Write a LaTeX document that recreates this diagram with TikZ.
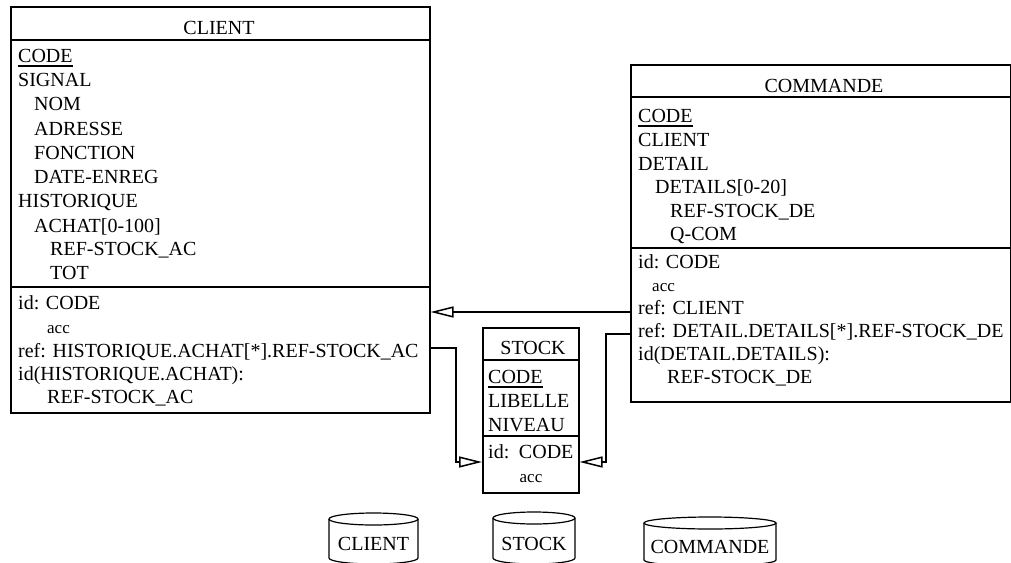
\documentclass[tikz,border=0pt]{standalone}
\usepackage{fontspec}
\setmainfont{Liberation Serif}
\usetikzlibrary{arrows.meta}
\newcommand\fsrow{\fontsize{20}{24}\selectfont}
\newcommand\fsacc{\fontsize{17}{20}\selectfont}
\tikzset{
  box/.style={draw, line width=1.5pt, anchor=north west, inner sep=0pt},
  row/.style={anchor=base west, inner sep=0pt, font=\fsrow},
  accrow/.style={anchor=base west, inner sep=0pt, font=\fsacc},
  title/.style={anchor=base, inner sep=0pt, font=\fsrow},
  divider/.style={line width=1.5pt},
  keyline/.style={line width=1.8pt},
  refarrow/.style={line width=1.5pt, -{Triangle[open, length=23pt, width=11pt, line width=1.5pt]}},
  cyl/.style={line width=1.2pt},
}
\begin{document}
\begin{tikzpicture}[x=1pt,y=-1pt]
\useasboundingbox (0,0) rectangle (1011,562);
\clip (0,0) rectangle (1011,562);

% ---------- CLIENT ----------
\node[box, minimum width=419pt, minimum height=406pt] (client) at (10,6) {};
\draw[divider] (client.west |- 0,40) -- (client.east |- 0,40);
\draw[divider] (client.west |- 0,287) -- (client.east |- 0,287);
\node[title] (clienttitle) at (219,34) {CLIENT};
\node[row] (clcode) at (18,62) {CODE};
\draw[keyline] ([yshift=-4pt]clcode.base west) -- ([yshift=-4pt]clcode.base east);
\node[row] (clsignal) at (18,86) {SIGNAL};
\node[row] (clnom) at (34,110) {NOM};
\node[row] (cladr) at (34,135) {ADRESSE};
\node[row] (clfonc) at (34,159) {FONCTION};
\node[row] (cldate) at (34,183) {DATE-ENREG};
\node[row] (clhist) at (18,207) {HISTORIQUE};
\node[row] (clachat) at (34,232) {ACHAT[0-100]};
\node[row] (clrefst) at (50,255) {REF-STOCK\_AC};
\node[row] (cltot) at (50,279) {TOT};
\node[row] (clid) at (18,309) {id: CODE};
\node[accrow] (clacc) at (47,333) {acc};
\node[row] (clref) at (18,357) {ref: HISTORIQUE.ACHAT[*].REF-STOCK\_AC};
\node[row] (clid2) at (18,380) {id(HISTORIQUE.ACHAT):};
\node[row] (clid2b) at (47,403) {REF-STOCK\_AC};

% ---------- COMMANDE ----------
\node[box, minimum width=380pt, minimum height=337pt] (commande) at (630,64) {};
\draw[divider] (commande.west |- 0,97) -- (commande.east |- 0,97);
\draw[divider] (commande.west |- 0,248) -- (commande.east |- 0,248);
\node[title] (cmdtitle) at (824,92) {COMMANDE};
\node[row] (cmcode) at (638,122) {CODE};
\draw[keyline] ([yshift=-4pt]cmcode.base west) -- ([yshift=-4pt]cmcode.base east);
\node[row] (cmclient) at (638,146) {CLIENT};
\node[row] (cmdetail) at (638,170) {DETAIL};
\node[row] (cmdetails) at (655,193) {DETAILS[0-20]};
\node[row] (cmrefst) at (670,217) {REF-STOCK\_DE};
\node[row] (cmqcom) at (670,240) {Q-COM};
\node[row] (cmid) at (638,268) {id: CODE};
\node[accrow] (cmacc) at (652,291) {acc};
\node[row] (cmrefcl) at (638,314) {ref: CLIENT};
\node[row] (cmrefdt) at (638,337) {ref: DETAIL.DETAILS[*].REF-STOCK\_DE};
\node[row] (cmid2) at (638,360) {id(DETAIL.DETAILS):};
\node[row] (cmid2b) at (667,383) {REF-STOCK\_DE};

% ---------- STOCK ----------
\node[box, minimum width=96pt, minimum height=165pt] (stock) at (482,327) {};
\draw[divider] (stock.west |- 0,360) -- (stock.east |- 0,360);
\draw[divider] (stock.west |- 0,436) -- (stock.east |- 0,436);
\node[title] (sttitle) at (533,354) {STOCK};
\node[row] (stcode) at (488,383) {CODE};
\draw[keyline] ([yshift=-4pt]stcode.base west) -- ([yshift=-4pt]stcode.base east);
\node[row] (stlib) at (488,407) {LIBELLE};
\node[row] (stniv) at (488,431) {NIVEAU};
\node[row] (stid) at (488,458) {id:\hspace{3pt} CODE};
\node[title, font=\fsacc] (stacc) at (531,482) {acc};

% ---------- connectors ----------
\coordinate (bendL) at (456,462);
\coordinate (bendR) at (606,462);
\draw[refarrow] (commande.west |- 0,312) -- (client.east |- 0,312);
\draw[refarrow] (client.east |- 0,348) -| (bendL) -- (stock.west |- bendL);
\draw[refarrow] (commande.west |- 0,334) -| (bendR) -- (stock.east |- bendR);

% ---------- storage cylinders ----------
\draw[cyl] (329,519) -- (329,558) arc[start angle=180, end angle=360, x radius=44.5pt, y radius=6pt] -- (418,519);
\draw[cyl] (373.5,519) ellipse [x radius=44.5pt, y radius=6pt];
\node[title] (dbclient) at (373.5,550) {CLIENT};

\draw[cyl] (493,518) -- (493,558) arc[start angle=180, end angle=360, x radius=41pt, y radius=6pt] -- (575,518);
\draw[cyl] (534,518) ellipse [x radius=41pt, y radius=6pt];
\node[title] (dbstock) at (534,550) {STOCK};

\draw[cyl] (644,523) -- (644,560) arc[start angle=180, end angle=360, x radius=66pt, y radius=6pt] -- (776,523);
\draw[cyl] (710,523) ellipse [x radius=66pt, y radius=6pt];
\node[title] (dbcommande) at (710,553) {COMMANDE};
\end{tikzpicture}
\end{document}
